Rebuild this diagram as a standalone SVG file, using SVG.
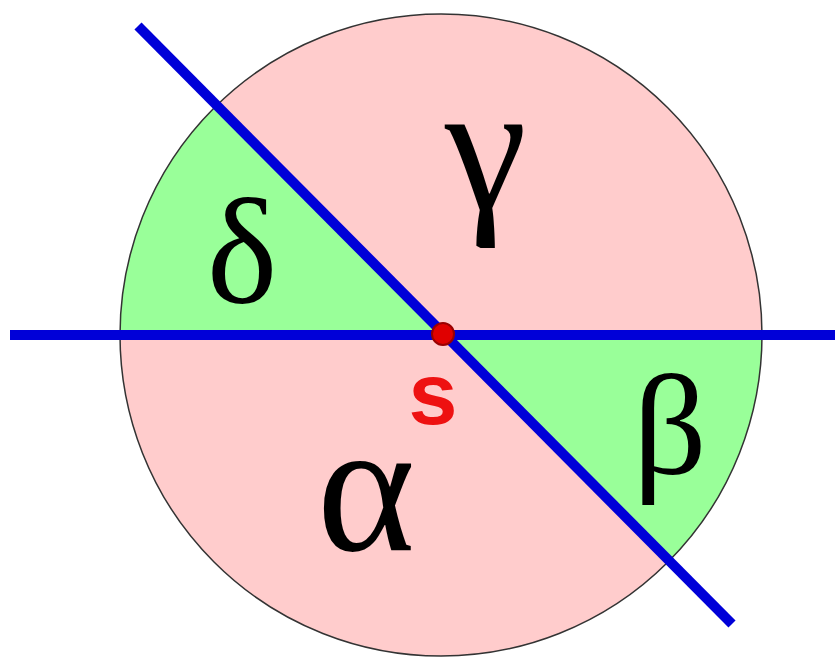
<svg xmlns="http://www.w3.org/2000/svg" width="835" height="661" viewBox="0 0 835 661">
<style>
.greek{font-family:"Liberation Serif","DejaVu Serif",serif;fill:#000;text-anchor:middle}
.ln{stroke:#0000d8;stroke-width:10;fill:none}
</style>
<rect width="835" height="661" fill="#fff"/>
<g id="disc">
<circle cx="441" cy="335" r="321" fill="#ffcccc"/>
<path d="M441,335 L120,335 A321,321 0 0 1 214,108 Z" fill="#99ff99"/>
<path d="M441,335 L762,335 A321,321 0 0 1 668,562 Z" fill="#99ff99"/>
<circle cx="441" cy="335" r="321" fill="none" stroke="#333" stroke-width="1.5"/>
</g>
<g id="connectors">
<line class="ln" x1="10" y1="335" x2="835" y2="335"/>
<line class="ln" x1="138" y1="26" x2="732" y2="624"/>
</g>
<g id="labels">
<text class="greek" x="486" y="209" style="font-size:185px">γ</text>
<text class="greek" x="242" y="303" style="font-size:150px">δ</text>
<text class="greek" x="670" y="474" style="font-size:145px">β</text>
<text class="greek" x="366" y="550" style="font-size:188px">α</text>
</g>
<g id="s">
<circle cx="443" cy="334" r="11" fill="#e00000" stroke="#900" stroke-width="2"/>
<text x="433" y="424" font-family="Liberation Sans, Arial, sans-serif" font-weight="bold" font-size="88" fill="#ee1111" text-anchor="middle">s</text>
</g>
</svg>
